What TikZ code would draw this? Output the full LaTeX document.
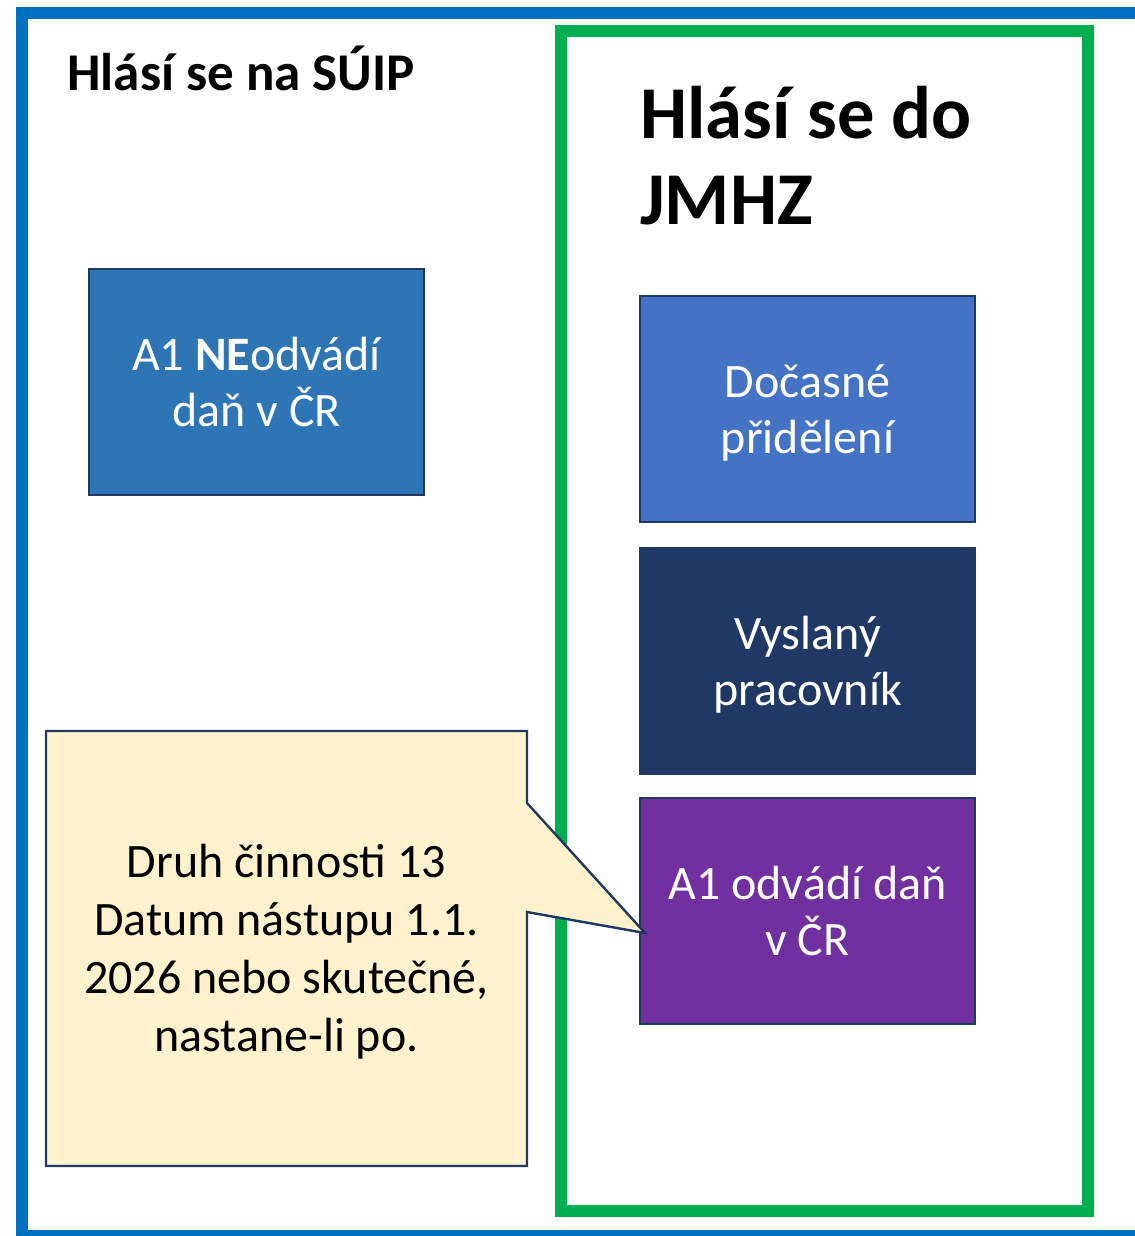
\documentclass[tikz,border=0pt]{standalone}
\usepackage{fontspec}
\setmainfont{Carlito}
\definecolor{ramsuip}{HTML}{0070C0}
\definecolor{ramjmhz}{HTML}{00B050}
\definecolor{okraj}{HTML}{203864}
\definecolor{modra}{HTML}{2E75B6}
\definecolor{svetlemodra}{HTML}{4472C4}
\definecolor{tmavemodra}{HTML}{203864}
\definecolor{fialova}{HTML}{7030A0}
\definecolor{bublina}{HTML}{FFF2CC}

\begin{document}
\begin{tikzpicture}[x=0.75pt,y=-0.75pt,
	box/.style={draw=okraj,line width=1.8pt,minimum width=251.25pt,minimum height=169.5pt,
		text=white,align=center,font=\fontsize{36}{42}\selectfont},
	nadpis/.style={inner sep=0pt,align=left,font=\bfseries}]
			\clip (0,0) rectangle (1135,1236);
			\fill[white] (0,0) rectangle (1135,1236);
			% ramy
			\draw[ramsuip,line width=9pt] (21.5,13.)-- (1150,13.)-- (1150,1236.)-- (21.5,1236.)-- cycle;
			\draw[ramjmhz,line width=9pt] (561.,31.) rectangle (1088.,1211.);
			% nadpisy
			\node[nadpis,anchor=base west,font=\bfseries\fontsize{39.8}{47}\selectfont] (suip) at (67.,90.) {Hlásí se na SÚIP};
			\node[nadpis,anchor=north west,font=\bfseries\fontsize{55.9}{64.5}\selectfont] (jmhz) at (640.,86.) {Hlásí se do\\JMHZ};
			% boxy
			\node[box,fill=modra] (neodvadi) at (256.5,382.) {A1 \textbf{NE}odvádí\\daň v ČR};
			\node[box,fill=svetlemodra] (docasne) at (807.5,409.) {};
			\node[text=white,align=center,font=\fontsize{36}{42}\selectfont] (docasnetxt) at (807.5,413.) {Dočasné\\přidělení};
			\node[box,fill=tmavemodra] (vyslany) at (807.5,661.) {};
			\node[text=white,align=center,font=\fontsize{36}{42}\selectfont] (vyslanytxt) at (807.5,665.) {Vyslaný\\pracovník};
			\node[box,fill=fialova] (odvadi) at (807.5,911.) {A1 odvádí daň\\v ČR};
			% bublina
			\coordinate (tip) at (645.,933.);
			\draw[okraj,fill=bublina,line width=1.8pt,line join=miter] (46.,731.)-- (527.,731.)-- (527.,803.)-- (tip)-- (527.,912.)-- (527.,1166.)-- (46.,1166.)-- cycle;
			\node[align=center,font=\fontsize{36}{43.5}\selectfont] (pozn) at (286.5,952.) {Druh činnosti 13\\Datum nástupu 1.1.\\2026 nebo skutečné,\\nastane-li po.};
		\end{tikzpicture}
\end{document}
